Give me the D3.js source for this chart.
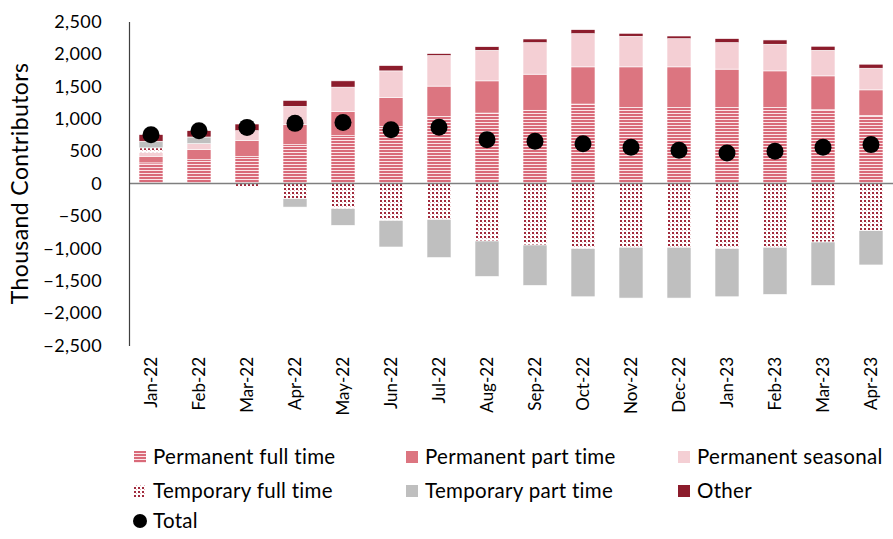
<!DOCTYPE html>
<html>
<head>
<meta charset="utf-8">
<script src="https://cdn.jsdelivr.net/npm/d3@7"></script>
<style>
  html, body { margin: 0; padding: 0; background: #fff; }
  svg { display: block; font-family: "Lato", "Open Sans", sans-serif; }
</style>
</head>
<body>
<svg id="chart" width="893" height="539"></svg>
<script>
// Monthly categories
const months = ["Jan-22","Feb-22","Mar-22","Apr-22","May-22","Jun-22","Jul-22","Aug-22",
                "Sep-22","Oct-22","Nov-22","Dec-22","Jan-23","Feb-23","Mar-23","Apr-23"];

// Series values, thousand contributors
const permanentFullTime  = [318, 369, 420, 600, 738, 881, 1035, 1087, 1130, 1226, 1174, 1174, 1174, 1174, 1138, 1050];
const permanentPartTime  = [102, 154, 241, 308, 374, 446, 468, 497, 557, 574, 626, 626, 591, 564, 523, 395];
const permanentSeasonal  = [62, 92, 154, 282, 375, 411, 471, 472, 486, 512, 472, 435, 409, 411, 395, 334];
const temporaryFullTime  = [68, 0, -46, -235, -389, -569, -554, -887, -949, -1004, -984, -984, -1004, -984, -903, -728];
const temporaryPartTime  = [102, 103, 0, -129, -257, -411, -589, -548, -624, -744, -784, -784, -744, -728, -671, -529];
const other              = [103, 97, 103, 92, 97, 82, 31, 55, 57, 62, 46, 41, 62, 66, 62, 62];
const total              = [754, 815, 866, 928, 943, 831, 868, 677, 651, 615, 558, 512, 472, 497, 558, 600];

// Axis ticks
const yTicks = [2500, 2000, 1500, 1000, 500, 0, -500, -1000, -1500, -2000, -2500];

const seriesKeys = ["pft", "ppt", "ps", "tft", "tpt", "oth"];
const seriesNames = {
  pft: "Permanent full time", ppt: "Permanent part time", ps: "Permanent seasonal",
  tft: "Temporary full time", tpt: "Temporary part time", oth: "Other"
};
const seriesFill = {
  pft: "url(#stripes)", ppt: "#dc7580", ps: "#f4cfd4",
  tft: "url(#dots)", tpt: "#bfbfbf", oth: "#8c1c2c"
};

const rows = months.map((m, i) => ({
  month: m,
  pft: permanentFullTime[i], ppt: permanentPartTime[i], ps: permanentSeasonal[i],
  tft: temporaryFullTime[i], tpt: temporaryPartTime[i], oth: other[i],
  total: total[i]
}));

const svg = d3.select("#chart");
const defs = svg.append("defs");

// Horizontal stripe fill
const stripes = defs.append("pattern").attr("id", "stripes")
  .attr("patternUnits", "userSpaceOnUse").attr("width", 6).attr("height", 3);
stripes.append("rect").attr("width", 6).attr("height", 3).attr("fill", "#fbe6e9");
stripes.append("rect").attr("width", 6).attr("height", 2).attr("fill", "#d96a79");

// Dotted grid fill
const dots = defs.append("pattern").attr("id", "dots")
  .attr("patternUnits", "userSpaceOnUse").attr("width", 4).attr("height", 4);
dots.append("rect").attr("width", 4).attr("height", 4).attr("fill", "#fff");
dots.append("rect").attr("x", 0).attr("y", 0).attr("width", 2).attr("height", 2).attr("fill", "#a02a3c");
dots.append("rect").attr("x", 2).attr("y", 2).attr("width", 1).attr("height", 1).attr("fill", "#e6b3ba");

const axisX = 129;
const x = d3.scaleBand().domain(months).range([127, 895]).paddingInner(0.5).paddingOuter(0.25);
const y = d3.scaleLinear().domain([-2500, 2500]).range([345.5, 21.5]);

const stack = d3.stack().keys(seriesKeys).offset(d3.stackOffsetDiverging);
const stacked = stack(rows);

// Stacked bars
svg.append("g").selectAll("g").data(stacked).join("g")
  .attr("fill", d => seriesFill[d.key])
  .selectAll("rect").data(d => d.filter(p => p[1] !== p[0])).join("rect")
  .attr("x", d => x(d.data.month))
  .attr("width", x.bandwidth())
  .attr("y", d => y(Math.max(d[0], d[1])))
  .attr("height", d => Math.abs(y(d[0]) - y(d[1])))
  .attr("stroke", "#fff").attr("stroke-width", 0.6);

// Zero line
svg.append("line")
  .attr("x1", axisX).attr("x2", 893)
  .attr("y1", y(0)).attr("y2", y(0))
  .attr("stroke", "#7f7f7f").attr("stroke-width", 1.5);

// Y axis
const yAxis = svg.append("g").attr("transform", `translate(${axisX},0)`)
  .call(d3.axisLeft(y).tickValues(yTicks).tickSize(0).tickPadding(27).tickFormat(d3.format(",")));
yAxis.select(".domain").attr("stroke", "#404040").attr("stroke-width", 1.2);
yAxis.selectAll("text").attr("font-size", 18).attr("fill", "#000")
  .attr("font-family", "Lato, sans-serif").attr("letter-spacing", 0.4);

// Y axis title
svg.append("text")
  .attr("transform", `translate(28,${y(0)}) rotate(-90)`)
  .attr("text-anchor", "middle")
  .attr("font-size", 23)
  .attr("letter-spacing", 0.4)
  .text("Thousand Contributors");

// Month labels at the bottom of the plot
svg.append("g").selectAll("text").data(months).join("text")
  .attr("transform", d => `translate(${x(d) + x.bandwidth() / 2},357) rotate(-90)`)
  .attr("text-anchor", "end")
  .attr("dy", "0.35em")
  .attr("font-size", 17)
  .text(d => d);

// Total markers
svg.append("g").selectAll("circle").data(rows).join("circle")
  .attr("cx", d => x(d.month) + x.bandwidth() / 2)
  .attr("cy", d => y(d.total))
  .attr("r", 8.5)
  .attr("fill", "#000");

// Legend
const legendItems = [
  { key: "pft", col: 0, row: 0 }, { key: "ppt", col: 1, row: 0 }, { key: "ps", col: 2, row: 0 },
  { key: "tft", col: 0, row: 1 }, { key: "tpt", col: 1, row: 1 }, { key: "oth", col: 2, row: 1 }
];
const colX = [134, 406, 678];
const rowY = [457, 491, 521];
const legend = svg.append("g").attr("font-size", 20.5).attr("letter-spacing", 0.3);
legendItems.forEach(it => {
  const g = legend.append("g").attr("transform", `translate(${colX[it.col]},${rowY[it.row]})`);
  g.append("rect").attr("x", 0).attr("y", -6).attr("width", 12).attr("height", 12)
    .attr("fill", seriesFill[it.key]);
  g.append("text").attr("x", 19).attr("dy", "0.35em").text(seriesNames[it.key]);
});
const lt = legend.append("g").attr("transform", `translate(${colX[0]},${rowY[2]})`);
lt.append("circle").attr("cx", 6).attr("cy", 0).attr("r", 7).attr("fill", "#000");
lt.append("text").attr("x", 19).attr("dy", "0.35em").text("Total");
</script>
</body>
</html>
